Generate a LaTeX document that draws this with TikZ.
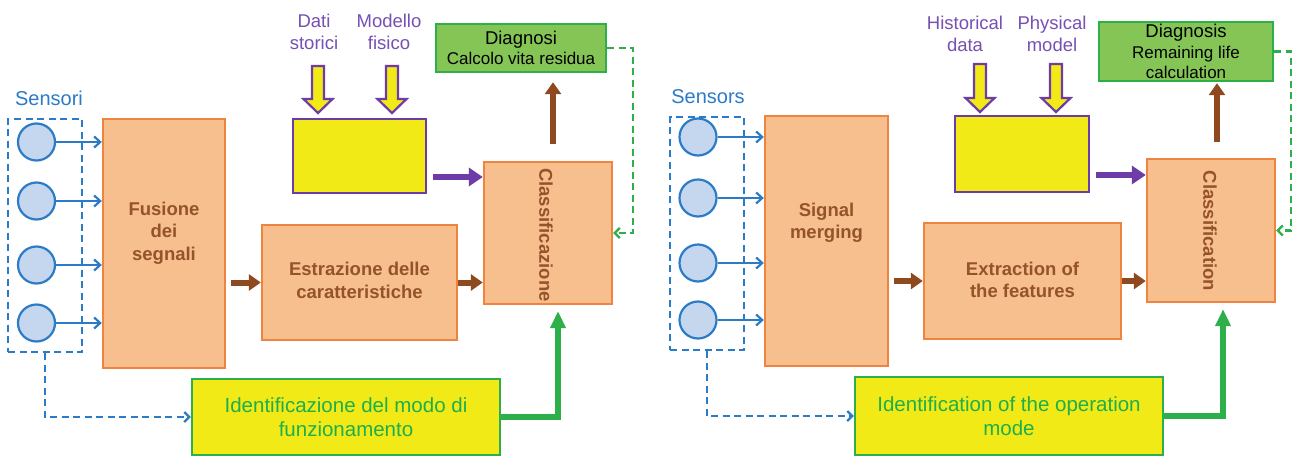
\documentclass[tikz,border=0pt]{standalone}
\usepackage{fontspec}
\setmainfont{Liberation Sans}
\usetikzlibrary{arrows.meta,calc}
\definecolor{orfill}{HTML}{F7BE8E}
\definecolor{ordraw}{HTML}{EE8440}
\definecolor{brownc}{HTML}{8E4A1E}
\definecolor{brtext}{HTML}{94532A}
\definecolor{yel}{HTML}{F2EA16}
\definecolor{purp}{HTML}{6E3CA8}
\definecolor{purtext}{HTML}{7650B4}
\definecolor{grfill}{HTML}{84C556}
\definecolor{grdraw}{HTML}{2DB04A}
\definecolor{grtext}{HTML}{1EAE4E}
\definecolor{bluec}{HTML}{2B7BC6}
\definecolor{circfill}{HTML}{C4D7EE}
\tikzset{
  procbox/.style={draw=ordraw, fill=orfill, line width=2.4pt, inner sep=0pt},
  proclabel/.style={text=brtext, font=\fontsize{18.5}{22.5}\selectfont\bfseries, align=center, inner sep=0pt},
  sensbox/.style={draw=bluec, dash pattern=on 7pt off 4.5pt, line width=2.2pt, inner sep=0pt},
  sensor/.style={circle, draw=bluec, fill=circfill, line width=2.2pt, minimum size=37pt, inner sep=0pt},
  sensarrow/.style={draw=bluec, line width=2.2pt, -{Straight Barb[length=6pt,width=11pt]}},
  datbox/.style={draw=purp, fill=yel, line width=2.4pt, inner sep=0pt},
  diagbox/.style={draw=grdraw, fill=grfill, line width=2.4pt, align=center, inner sep=0pt, text=black, font=\fontsize{17}{20.5}\selectfont},
  identbox/.style={draw=grdraw, fill=yel, line width=2.4pt, text=grtext, align=center, inner sep=0pt, font=\fontsize{20.5}{24}\selectfont},
  brarrow/.style={draw=brownc, line width=6pt, -{Triangle[length=12pt,width=16pt]}},
  purarrow/.style={draw=purp, line width=6pt, -{Triangle[length=14pt,width=18pt]}},
  grarrow/.style={draw=grdraw, line width=5.5pt, line join=miter, -{Triangle[length=17pt,width=15pt]}},
  grdash/.style={draw=grdraw, line width=2.2pt, dash pattern=on 7pt off 4.5pt, -{Straight Barb[length=5pt,width=10pt]}},
  bldash/.style={draw=bluec, line width=2.2pt, dash pattern=on 7pt off 4.5pt, -{Straight Barb[length=5pt,width=10pt]}},
  blockarrow/.style={draw=purp, fill=yel, line width=2.2pt, line join=miter},
  senslbl/.style={text=bluec, font=\fontsize{20}{24}\selectfont, inner sep=0pt},
  inlbl/.style={text=purtext, font=\fontsize{18.5}{22}\selectfont, align=center, inner sep=0pt}
}
\newcommand{\blockarr}[3]{\draw[blockarrow] (#1-6,#2) -- (#1+6,#2) -- (#1+6,#3-14) -- (#1+14.5,#3-14) -- (#1,#3) -- (#1-14.5,#3-14) -- (#1-6,#3-14) -- cycle;}
\begin{document}
\begin{tikzpicture}[x=1pt,y=-1pt]
\fill[white] (0,0) rectangle (1292,458);
\useasboundingbox (0,0) rectangle (1292,458);

% ================= LEFT (Italian) =================
\node[senslbl] (lsl) at (49,98) {Sensori};
\node[sensbox, minimum width=74pt, minimum height=233pt] (lsb) at (45,235.5) {};
\node[sensor] (ls1) at (36.5,142) {};
\node[sensor] (ls2) at (36.5,201) {};
\node[sensor] (ls3) at (36.5,265) {};
\node[sensor] (ls4) at (36.5,323) {};
\node[procbox, minimum width=122pt, minimum height=249pt] (lfus) at (164,243.5) {};
\node[proclabel] (lfust) at (164,233) {Fusione\\dei\\segnali};
\foreach \s in {ls1,ls2,ls3,ls4} \draw[sensarrow] (\s) -- (\s -| lfus.west);

\node[procbox, minimum width=195pt, minimum height=115pt] (lext) at (359.5,282.5) {};
\node[proclabel] (lextt) at (359.5,280.5) {Estrazione delle\\caratteristiche};
\node[procbox, minimum width=128pt, minimum height=142pt] (lcls) at (548,233) {};
\node[proclabel, rotate=-90] (lclst) at (546,235) {Classificazione};
\node[datbox, minimum width=133pt, minimum height=74pt] (lyel) at (359.5,156) {};
\node[diagbox, minimum width=170pt, minimum height=48pt] (ldiag) at (521,48) {{\fontsize{18.5}{21}\selectfont Diagnosi}\\Calcolo vita residua};
\node[identbox, minimum width=308pt, minimum height=76pt] (lid) at (346,417) {Identificazione del modo di\\funzionamento};
\node[inlbl] (lin1) at (314,32) {Dati\\storici};
\node[inlbl] (lin2) at (389,32) {Modello\\fisico};
\blockarr{318}{66}{113}
\blockarr{392}{66}{113}

\draw[brarrow] ($(lfus.east |- lext.center)+(5,0)$) -- (lext.west);
\draw[brarrow] (lext.east) -- (lext.east -| lcls.west);
\draw[purarrow] ($(lyel.east)+(6,21)$) -- ($(lyel.east -| lcls.west)+(0,21)$);
\draw[brarrow] ($(lcls.north)+(5,-17)$) -- ($(lcls.north |- ldiag.south)+(5,9)$);
\draw[grdash] (ldiag.east) -- ++(26,0) |- (lcls.east);
\draw[grarrow] (lid.east) -| ($(lcls.south)+(10,6)$);
\draw[bldash] (lsb.south) |- (lid.west);

% ================= RIGHT (English) =================
\node[senslbl] (rsl) at (708,97) {Sensors};
\node[sensbox, minimum width=74pt, minimum height=233pt] (rsb) at (707,233.5) {};
\node[sensor] (rs1) at (698,137) {};
\node[sensor] (rs2) at (698,198) {};
\node[sensor] (rs3) at (698,263) {};
\node[sensor] (rs4) at (698,320) {};
\node[procbox, minimum width=123pt, minimum height=250pt] (rfus) at (826.5,241) {};
\node[proclabel] (rfust) at (826.5,223) {Signal\\merging};
\foreach \s in {rs1,rs2,rs3,rs4} \draw[sensarrow] (\s) -- (\s -| rfus.west);

\node[procbox, minimum width=197pt, minimum height=116pt] (rext) at (1022.5,281) {};
\node[proclabel] (rextt) at (1022.5,280) {Extraction of\\the features};
\node[procbox, minimum width=128pt, minimum height=143pt] (rcls) at (1211,230.5) {};
\node[proclabel, rotate=-90] (rclst) at (1210,231) {Classification};
\node[datbox, minimum width=134pt, minimum height=76pt] (ryel) at (1022,154) {};
\node[diagbox, minimum width=174pt, minimum height=59pt] (rdiag) at (1186,51.5) {{\fontsize{18.5}{20.5}\selectfont Diagnosis}\\Remaining life\\calculation};
\node[identbox, minimum width=308pt, minimum height=78pt] (rid) at (1009,416) {Identification of the operation\\mode};
\node[inlbl] (rin1) at (965,33.5) {Historical\\data};
\node[inlbl] (rin2) at (1052,33.5) {Physical\\model};
\blockarr{980}{64}{112}
\blockarr{1056}{64}{112}

\draw[brarrow] ($(rfus.east |- rext.center)+(5,0)$) -- (rext.west);
\draw[brarrow] (rext.east) -- (rext.east -| rcls.west);
\draw[purarrow] ($(ryel.east)+(6,21)$) -- ($(ryel.east -| rcls.west)+(0,21)$);
\draw[brarrow] ($(rcls.north)+(6,-16)$) -- ($(rcls.north |- rdiag.south)+(6,1)$);
\draw[grdash] (rdiag.east) -- ++(17,0) |- (rcls.east);
\draw[grarrow] (rid.east) -| ($(rcls.south)+(12,6)$);
\draw[bldash] (rsb.south) |- (rid.west);
\end{tikzpicture}
\end{document}
